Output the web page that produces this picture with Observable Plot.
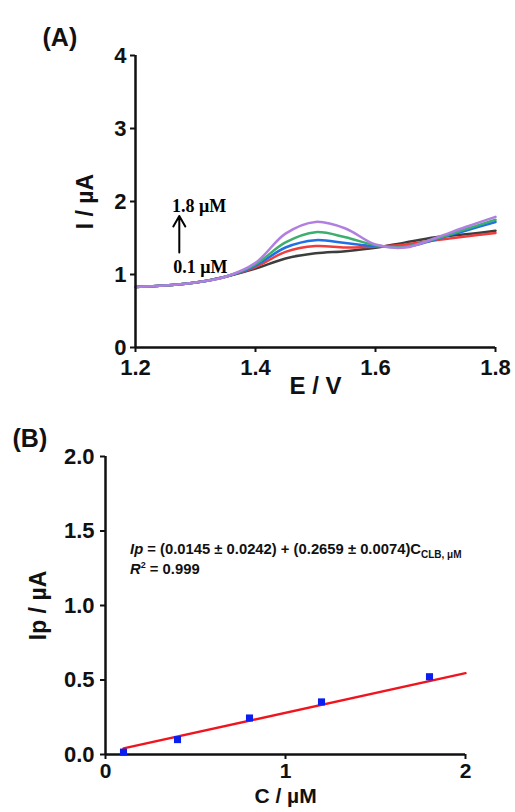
<!DOCTYPE html>
<html><head><meta charset="utf-8">
<script src="https://cdn.jsdelivr.net/npm/d3@7"></script>
<script src="https://cdn.jsdelivr.net/npm/@observablehq/plot@0.6"></script>
<style>body{margin:0;background:#fff} svg{display:block}</style>
</head><body><div id="a"></div><div id="b"></div>
<script>
// Panel A: DPV curves
const E = [1.20,1.25,1.30,1.35,1.40,1.45,1.50,1.55,1.60,1.65,1.70,1.75,1.80];
const curve01 = [0.83,0.85,0.89,0.97,1.08,1.22,1.29,1.32,1.365,1.44,1.51,1.55,1.60];
const curve04 = [0.83,0.85,0.89,0.97,1.10,1.31,1.39,1.37,1.38,1.41,1.47,1.52,1.57];
const curve08 = [0.83,0.85,0.89,0.97,1.12,1.37,1.47,1.43,1.39,1.38,1.48,1.60,1.72];
const curve12 = [0.83,0.85,0.89,0.97,1.14,1.44,1.58,1.51,1.40,1.38,1.49,1.62,1.75];
const curve18 = [0.83,0.85,0.89,0.97,1.16,1.56,1.72,1.63,1.41,1.37,1.50,1.65,1.79];
const seriesA = [
  {name: "0.1", values: curve01, color: "#3d3d3d"},
  {name: "0.4", values: curve04, color: "#f03c3c"},
  {name: "0.8", values: curve08, color: "#1f6fe6"},
  {name: "1.2", values: curve12, color: "#3cae6e"},
  {name: "1.8", values: curve18, color: "#b07fe0"}
];
const xTicksA = [1.2, 1.4, 1.6, 1.8];
const yTicksA = [0, 1, 2, 3, 4];

// Panel B: calibration
const conc = [0.1, 0.4, 0.8, 1.2, 1.8];
const ip = [0.016, 0.10, 0.245, 0.353, 0.522];
const fitC = [0.1, 2.0];
const fitIp = [0.041, 0.546];
const xTicksB = [0, 1, 2];
const yTicksB = [0, 0.5, 1.0, 1.5, 2.0];

const font = "'Liberation Sans', Arial, Helvetica, sans-serif";
const serif = "'Liberation Serif', 'Times New Roman', serif";
const baseStyle = {fontFamily: font, fontSize: "22px", fontWeight: "bold", color: "#111", background: "white", overflow: "visible"};

const linesA = seriesA.map(s => Plot.line(E.map((e, i) => ({E: e, I: s.values[i]})),
  {x: "E", y: "I", stroke: s.color, strokeWidth: 2.5, curve: "catmull-rom"}));

const plotA = Plot.plot({
  width: 515, height: 400,
  marginLeft: 135, marginRight: 20, marginTop: 55, marginBottom: 53,
  x: {domain: [1.2, 1.8]},
  y: {domain: [0, 4]},
  style: baseStyle,
  marks: [
    Plot.axisX({ticks: xTicksA, tickSize: 5, tickPadding: 7, strokeWidth: 2, label: null, tickFormat: d => d.toFixed(1)}),
    Plot.axisY({ticks: yTicksA, tickSize: 5, tickPadding: 4, strokeWidth: 2, label: null, tickFormat: d => String(d)}),
    ...linesA,
    Plot.ruleY([0], {strokeWidth: 2.5}),
    Plot.ruleX([1.2], {strokeWidth: 2.5}),
    Plot.arrow([0], {x1: 1.273, y1: 1.30, x2: 1.273, y2: 1.80, strokeWidth: 2, headLength: 9, stroke: "#000"}),
    Plot.text(["1.8 μM"], {x: 1.261, y: 1.93, text: d => d, textAnchor: "start", fontFamily: serif, fontSize: 18, fontWeight: "bold", fill: "#000"}),
    Plot.text(["0.1 μM"], {x: 1.263, y: 1.10, text: d => d, textAnchor: "start", fontFamily: serif, fontSize: 18, fontWeight: "bold", fill: "#000"}),
    Plot.text(["I / µA"], {text: d => d, frameAnchor: "left", dx: -50, rotate: -90, fontSize: 23, textAnchor: "middle", fill: "#111"}),
    Plot.text(["E / V"], {text: d => d, frameAnchor: "bottom", dy: 46, fontSize: 24, textAnchor: "middle", fill: "#111"}),
    Plot.text(["(A)"], {text: d => d, frameAnchor: "top-left", dx: -93, dy: -27, fontSize: 25, textAnchor: "start", fill: "#111"})
  ]
});
document.getElementById("a").append(plotA);

const pts = conc.map((c, i) => ({C: c, Ip: ip[i]}));
const fit = fitC.map((c, i) => ({C: c, Ip: fitIp[i]}));

const plotB = Plot.plot({
  width: 515, height: 412,
  marginLeft: 105, marginRight: 50, marginTop: 56, marginBottom: 58,
  x: {domain: [0, 2]},
  y: {domain: [0, 2]},
  style: baseStyle,
  marks: [
    Plot.axisX({ticks: xTicksB, tickSize: 5, tickPadding: 4, strokeWidth: 2, fontSize: 21, label: null, tickFormat: d => String(d)}),
    Plot.axisY({ticks: yTicksB, tickSize: 5, tickPadding: 6, strokeWidth: 2, label: null, tickFormat: d => d.toFixed(1)}),
    Plot.ruleY([0], {strokeWidth: 2.5}),
    Plot.ruleX([0], {strokeWidth: 2.5}),
    Plot.line(fit, {x: "C", y: "Ip", stroke: "#f0141e", strokeWidth: 2.5}),
    Plot.dot(pts, {x: "C", y: "Ip", symbol: "square", r: 4, fill: "#0a1ef0", stroke: "none"}),
    Plot.text(["Ip / µA"], {text: d => d, frameAnchor: "left", dx: -67, rotate: -90, fontSize: 23, textAnchor: "middle", fill: "#111"}),
    Plot.text(["C / µM"], {text: d => d, frameAnchor: "bottom", dy: 48, fontSize: 21, textAnchor: "middle", fill: "#111"}),
    Plot.text(["(B)"], {text: d => d, frameAnchor: "top-left", dx: -93, dy: -27, fontSize: 25, textAnchor: "start", fill: "#111"})
  ]
});
document.getElementById("b").append(plotB);

// Equation annotation (rich text with italics and subscript)
const eqLine1 = ["Ip", " = (0.0145 ± 0.0242) + (0.2659 ± 0.0074)C", "CLB, μM"];
const eqLine2 = ["R", "2", " = 0.999"];
const sx = plotB.scale("x"), sy = plotB.scale("y");
const svgB = d3.select(plotB);
const t1 = svgB.append("text")
  .attr("x", sx.apply(0.139)).attr("y", sy.apply(1.345)).attr("text-anchor", "start")
  .attr("font-size", 14.8).attr("font-weight", "bold").attr("font-family", font).attr("fill", "#111");
t1.append("tspan").attr("font-style", "italic").text(eqLine1[0]);
t1.append("tspan").text(eqLine1[1]);
t1.append("tspan").attr("font-size", 10).attr("dy", 4).text(eqLine1[2]);
const t2 = svgB.append("text")
  .attr("x", sx.apply(0.139)).attr("y", sy.apply(1.21)).attr("text-anchor", "start")
  .attr("font-size", 14.8).attr("font-weight", "bold").attr("font-family", font).attr("fill", "#111");
t2.append("tspan").attr("font-style", "italic").text(eqLine2[0]);
t2.append("tspan").attr("font-size", 9).attr("dy", -6).text(eqLine2[1]);
t2.append("tspan").attr("dy", 6).text(eqLine2[2]);
</script>
</body></html>
